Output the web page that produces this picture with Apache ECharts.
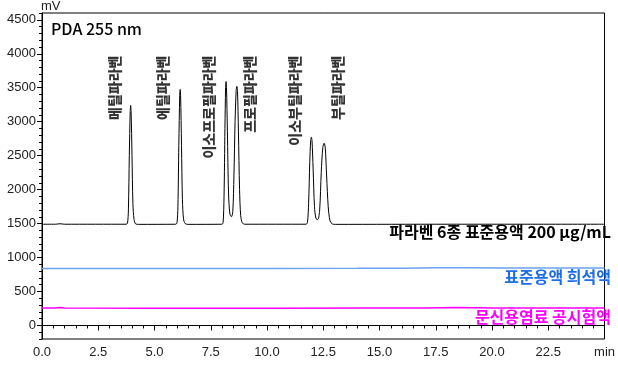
<!DOCTYPE html>
<html><head><meta charset="utf-8">
<script src="https://cdn.jsdelivr.net/npm/echarts@6/dist/echarts.min.js"></script>
<style>html,body{margin:0;padding:0;background:#fff}#c{width:618px;height:369px}</style>
</head><body><div id="c"></div>
<script>
// Tick labels
const xTicks = [0, 2.5, 5, 7.5, 10, 12.5, 15, 17.5, 20, 22.5, 25];
const yTicks = [0, 500, 1000, 1500, 2000, 2500, 3000, 3500, 4000, 4500];
// Peak names and label anchor positions [min, mV]
const peakNames = ['메틸파라벤', '에틸파라벤', '이소프로필파라벤', '프로필파라벤', '이소부틸파라벤', '부틸파라벤'];
const peakLabelX = [3.22, 5.37, 7.43, 9.21, 11.23, 13.16];
const peakLabelY = 3974;
// Series names
const seriesNames = ['파라벤 6종 표준용액 200 μg/mL', '표준용액 희석액', '문신용염료 공시험액'];
// Trace: 파라벤 6종 표준용액 (time min, mV)
const stdTrace = [
  [0, 1490], [0.6, 1490], [0.8, 1497], [1.0, 1490], [3.74, 1490], [3.80, 1505], [3.84, 1700], [3.88, 2500], [3.92, 3150], [3.94, 3240],
  [3.96, 3150], [4.00, 2500], [4.04, 1800], [4.09, 1560], [4.16, 1495], [4.29, 1488], [5.94, 1490], [6.00, 1510],
  [6.04, 1750], [6.08, 2650], [6.12, 3380], [6.14, 3475], [6.16, 3380], [6.20, 2650], [6.24, 1850], [6.29, 1570],
  [6.36, 1500], [6.49, 1488], [8.00, 1490], [8.05, 1520], [8.09, 1900], [8.13, 2900], [8.16, 3500], [8.18, 3592],
  [8.20, 3500], [8.24, 2850], [8.29, 1950], [8.35, 1640], [8.42, 1600], [8.48, 1680], [8.53, 2200], [8.58, 3000],
  [8.63, 3460], [8.66, 3519], [8.69, 3440], [8.73, 2850], [8.78, 2000], [8.83, 1620], [8.90, 1510], [9.02, 1490],
  [11.74, 1490], [11.80, 1520], [11.85, 1800], [11.90, 2400], [11.94, 2720], [11.97, 2771], [12.00, 2720],
  [12.05, 2300], [12.11, 1750], [12.18, 1570], [12.26, 1560], [12.34, 1700], [12.41, 2250], [12.48, 2620],
  [12.54, 2683], [12.59, 2610], [12.65, 2200], [12.72, 1750], [12.80, 1540], [12.90, 1495], [13.04, 1488],
  [18.0, 1490], [25, 1490]
];
// Trace: 표준용액 희석액
const dilTrace = [
  [0, 838], [2, 838], [5, 838], [10, 838], [14, 840], [16, 843], [17.5, 850], [19, 850], [20.5, 846], [23, 844], [25, 844]
];
// Trace: 문신용염료 공시험액
const blankTrace = [
  [0, 255], [0.6, 255], [0.8, 264], [1.0, 256], [5, 254], [10, 254], [15, 255], [17, 258], [18.5, 262], [20, 258], [22, 256], [25, 256]
];

const chart = echarts.init(document.getElementById('c'));
const tickFont = {fontFamily: 'Liberation Sans, Arial, sans-serif', fontSize: 13, color: '#222'};
chart.setOption({
  animation: false,
  grid: {left: 42, right: 6, top: 12, bottom: 30, show: true, borderColor: '#000', borderWidth: 1, backgroundColor: 'transparent'},
  xAxis: {
    type: 'value', min: 0, max: 25, interval: 2.5,
    axisLine: {show: true, lineStyle: {color: '#000', width: 1}},
    axisTick: {show: true, length: 5, lineStyle: {color: '#000'}},
    minorTick: {show: true, splitNumber: 5, length: 3, lineStyle: {color: '#000'}},
    splitLine: {show: false},
    axisLabel: Object.assign({margin: 7, formatter: v => v === 25 ? 'min' : v.toFixed(1), showMaxLabel: true}, tickFont)
  },
  yAxis: [{
    type: 'value', min: -200, max: 4600, interval: 100,
    name: 'mV', nameLocation: 'end', nameGap: 1,
    nameTextStyle: Object.assign({align: 'left', verticalAlign: 'bottom', padding: [0, 0, -1, -1]}, tickFont),
    axisLine: {show: true, lineStyle: {color: '#000', width: 1}},
    axisTick: {show: true, length: 3, lineStyle: {color: '#000'}},
    splitLine: {show: false},
    axisLabel: Object.assign({margin: 6, showMinLabel: true, showMaxLabel: true,
      formatter: v => (Math.round(v) % 500 === 0 && v >= 0 && v <= 4500) ? String(Math.round(v)) : ''}, tickFont)
  }, {
    type: 'value', min: -200, max: 4600, position: 'left', offset: 0,
    axisLine: {show: false},
    axisTick: {show: true, length: 5, customValues: yTicks, lineStyle: {color: '#000'}},
    axisLabel: {show: false},
    splitLine: {show: false}
  }],
  series: [
    {name: seriesNames[2], type: 'line', data: blankTrace, showSymbol: false, lineStyle: {color: '#ff00ff', width: 1.5}, z: 2},
    {name: seriesNames[1], type: 'line', data: dilTrace, showSymbol: false, lineStyle: {color: '#6aa3f0', width: 1.5}, z: 2},
    {name: seriesNames[0], type: 'line', data: stdTrace, showSymbol: false, smooth: 0.3, lineStyle: {color: '#000', width: 1}, z: 3},
    {
      type: 'scatter', symbolSize: 0, silent: true,
      data: peakNames.map((n, i) => ({name: n, value: [peakLabelX[i], peakLabelY]})),
      label: {show: true, position: [0, 0], rotate: 90, align: 'right', verticalAlign: 'middle',
        formatter: p => p.name, fontFamily: 'Noto Sans CJK KR', fontWeight: 900, fontSize: 14, color: '#000'}
    }
  ],
  graphic: [
    {type: 'text', left: 51, top: 21, style: {text: 'PDA 255 nm', font: '500 16px "Noto Sans CJK KR"', fill: '#000'}},
    {type: 'text', right: 7, top: 224, style: {text: seriesNames[0], font: 'bold 16px "Noto Sans CJK KR"', fill: '#000'}},
    {type: 'text', right: 7, top: 269, style: {text: seriesNames[1], font: 'bold 16px "Noto Sans CJK KR"', fill: '#1c6ee8'}},
    {type: 'text', right: 7, top: 309, style: {text: seriesNames[2], font: 'bold 16px "Noto Sans CJK KR"', fill: '#ff00ff'}}
  ]
});
</script></body></html>
